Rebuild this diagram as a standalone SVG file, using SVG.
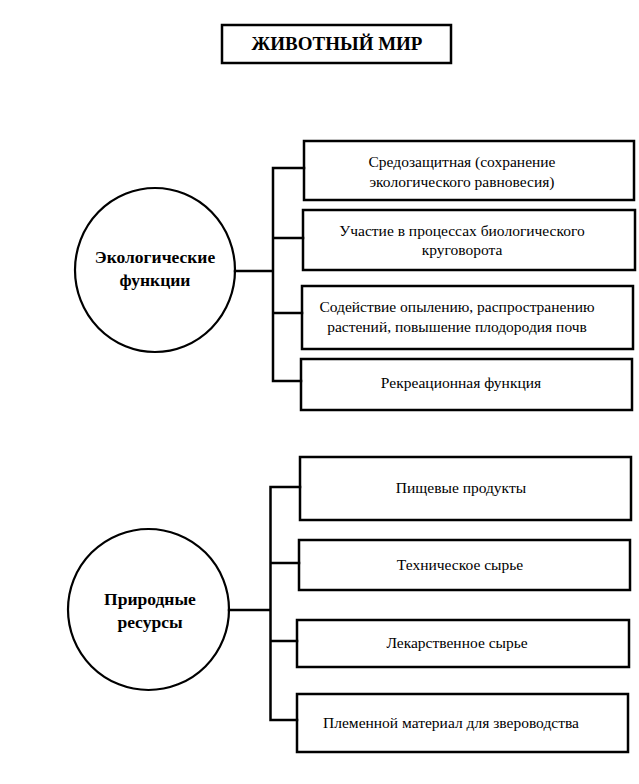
<svg xmlns="http://www.w3.org/2000/svg" width="639" height="784" viewBox="0 0 639 784">
<style>
.box{fill:none;stroke:#000;stroke-width:2.5}
.circ{fill:none;stroke:#000;stroke-width:2.2}
.conn{fill:none;stroke:#000;stroke-width:2.5;stroke-linecap:square}
.t{font-family:"Liberation Serif","Times New Roman",serif;font-size:15.5px;fill:#000;text-anchor:middle}
.b{font-family:"Liberation Serif","Times New Roman",serif;font-size:17.5px;font-weight:bold;fill:#000;text-anchor:middle}
.title{font-family:"Liberation Serif","Times New Roman",serif;font-size:19px;font-weight:bold;fill:#000;text-anchor:middle}
</style>
<rect width="639" height="784" fill="#fff"/>
<g id="title">
<rect class="box" x="222" y="25" width="229" height="38"/>
<text class="title" x="337" y="50">ЖИВОТНЫЙ МИР</text>
</g>
<g id="eco">
<ellipse class="circ" cx="155" cy="270" rx="80" ry="82"/>
<text class="b" x="155" y="263">Экологические</text>
<text class="b" x="155" y="286">функции</text>
</g>
<g id="eco1">
<rect class="box" x="304" y="141" width="330" height="59"/>
<text class="t" x="462" y="167">Средозащитная (сохранение</text>
<text class="t" x="462" y="187">экологического равновесия)</text>
</g>
<g id="eco2">
<rect class="box" x="303" y="210" width="332" height="60"/>
<text class="t" x="462" y="236">Участие в процессах биологического</text>
<text class="t" x="462" y="255">круговорота</text>
</g>
<g id="eco3">
<rect class="box" x="302" y="286" width="331" height="63"/>
<text class="t" x="457" y="312">Содействие опылению, распространению</text>
<text class="t" x="457" y="332">растений, повышение плодородия почв</text>
</g>
<g id="eco4">
<rect class="box" x="301" y="359" width="331" height="51"/>
<text class="t" x="461" y="388">Рекреационная функция</text>
</g>
<g id="res">
<ellipse class="circ" cx="148.5" cy="609.5" rx="80.5" ry="80.5"/>
<text class="b" x="150" y="605">Природные</text>
<text class="b" x="150" y="628">ресурсы</text>
</g>
<g id="res1">
<rect class="box" x="300" y="457" width="331" height="63"/>
<text class="t" x="461" y="493">Пищевые продукты</text>
</g>
<g id="res2">
<rect class="box" x="299" y="540" width="331" height="50"/>
<text class="t" x="460" y="570">Техническое сырье</text>
</g>
<g id="res3">
<rect class="box" x="297" y="620" width="332" height="47"/>
<text class="t" x="457" y="648">Лекарственное сырье</text>
</g>
<g id="res4">
<rect class="box" x="297" y="694" width="331" height="58"/>
<text class="t" x="451" y="728">Племенной материал для звероводства</text>
</g>
<g id="connectors">
<path class="conn" d="M235 271 H273 M273 168 V381 M273 168 H304 M273 238 H303 M273 313 H302 M273 381 H301"/>
<path class="conn" d="M229 610 H270.5 M270.5 487 V720 M270.5 487 H300 M270.5 563 H299 M270.5 641 H297 M270.5 720 H297"/>
</g>
</svg>
